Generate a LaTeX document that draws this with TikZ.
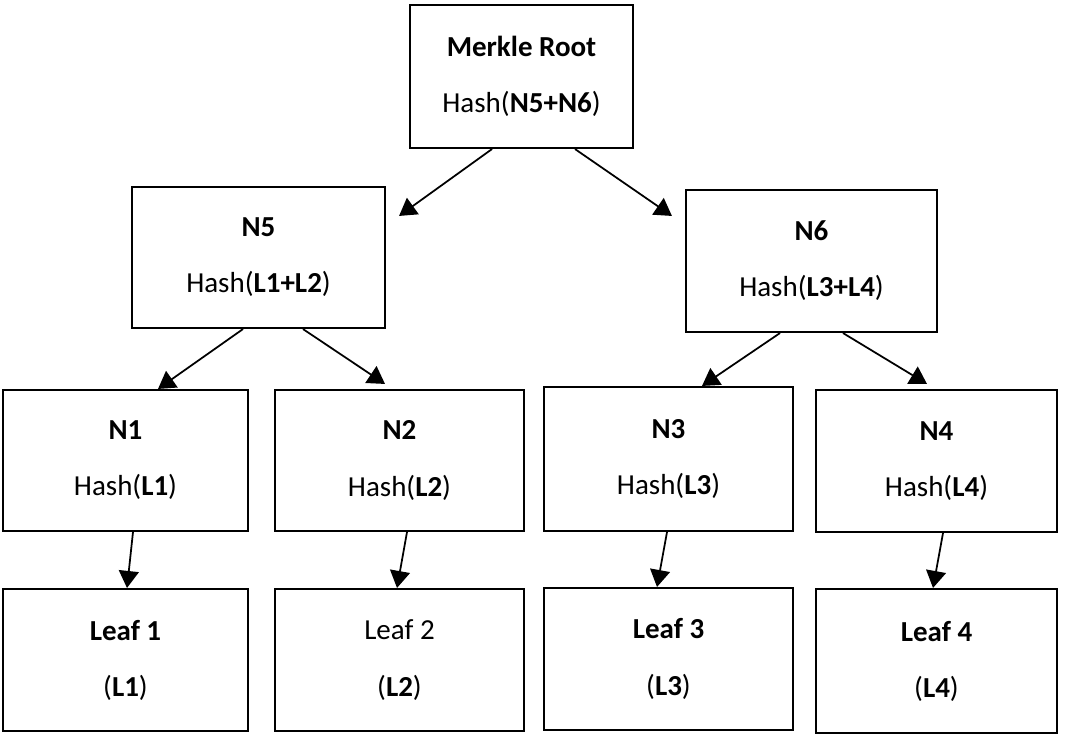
\documentclass[tikz,border=0pt]{standalone}
\usepackage{xcolor}
\usepackage{fontspec}
\setmainfont{Carlito}
\usepackage{tikz}
\usetikzlibrary{arrows.meta}

\begin{document}
\begin{tikzpicture}[
        hashbox/.style={draw,line width=1.2pt,align=center,minimum width=4.95cm,minimum height=2.84cm,inner sep=0pt,font=\fontsize{16.5}{20}\selectfont},
        link/.style={line width=1pt,-{Triangle[width=0.4cm,length=0.34cm]}}
    ]
        \useasboundingbox (0,0) rectangle (21.48,-14.72);
        \node[hashbox,minimum width=4.46cm,minimum height=2.86cm] (root) at (10.43,-1.53) {\textbf{Merkle Root}\\[0.42cm]Hash(\textbf{N5+N6})};
        \node[hashbox,minimum width=5.06cm,minimum height=2.82cm] (N5) at (5.17,-5.15) {\textbf{N5}\\[0.42cm]Hash(\textbf{L1+L2})};
        \node[hashbox,minimum width=5.02cm] (N6) at (16.23,-5.22) {\textbf{N6}\\[0.42cm]Hash(\textbf{L3+L4})};
        \node[hashbox,minimum width=4.9cm,minimum height=2.82cm] (N1) at (2.51,-9.21) {\textbf{N1}\\[0.42cm]Hash(\textbf{L1})};
        \node[hashbox,minimum width=4.98cm,minimum height=2.82cm] (N2) at (7.99,-9.21) {\textbf{N2}\\[0.42cm]Hash(\textbf{L2})};
        \node[hashbox,minimum width=4.98cm,minimum height=2.88cm] (N3) at (13.37,-9.18) {\textbf{N3}\\[0.42cm]Hash(\textbf{L3})};
        \node[hashbox,minimum width=4.82cm] (N4) at (18.73,-9.22) {\textbf{N4}\\[0.42cm]Hash(\textbf{L4})};
        \node[hashbox,minimum width=4.9cm] (leaf1) at (2.51,-13.2) {\textbf{Leaf 1}\\[0.42cm](\textbf{L1})};
        \node[hashbox,minimum width=4.98cm] (leaf2) at (7.99,-13.2) {Leaf 2\\[0.42cm](\textbf{L2})};
        \node[hashbox,minimum width=4.98cm] (leaf3) at (13.37,-13.18) {\textbf{Leaf 3}\\[0.42cm](\textbf{L3})};
        \node[hashbox,minimum width=4.82cm,minimum height=2.88cm] (leaf4) at (18.73,-13.22) {\textbf{Leaf 4}\\[0.42cm](\textbf{L4})};

        \draw[link] ([xshift=-0.59cm]root.south) -- ([xshift=0.26cm,yshift=-0.6cm]N5.north east);
        \draw[link] ([xshift=1.07cm]root.south) -- ([xshift=-0.26cm,yshift=-0.54cm]N6.north west);
        \draw[link] ([xshift=-0.31cm]N5.south) -- ([xshift=0.65cm]N1.north);
        \draw[link] ([xshift=0.89cm]N5.south) -- ([xshift=-0.29cm,yshift=0.1cm]N2.north);
        \draw[link] ([xshift=-0.63cm]N6.south) -- ([xshift=0.67cm]N3.north);
        \draw[link] ([xshift=0.63cm]N6.south) -- ([xshift=-0.19cm,yshift=0.1cm]N4.north);
        \draw[link] ([xshift=0.15cm]N1.south) -- ([xshift=0.03cm]leaf1.north);
        \draw[link] ([xshift=0.15cm]N2.south) -- ([xshift=-0.05cm]leaf2.north);
        \draw[link] ([xshift=-0.03cm]N3.south) -- ([xshift=-0.23cm]leaf3.north);
        \draw[link] ([xshift=0.13cm]N4.south) -- ([xshift=-0.07cm]leaf4.north);
\end{tikzpicture}
\end{document}
